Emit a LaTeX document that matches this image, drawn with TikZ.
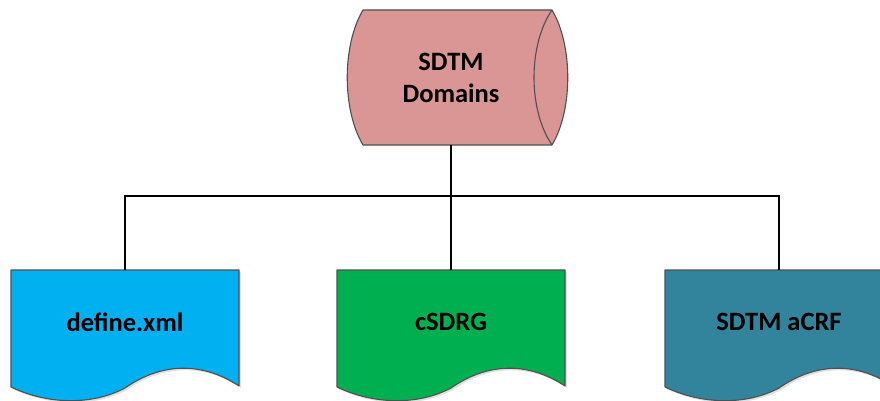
\documentclass[tikz,border=0pt]{standalone}
\usepackage{fontspec}
\setmainfont{Carlito}
\definecolor{cylfill}{HTML}{D99694}
\definecolor{docblue}{HTML}{00B0F0}
\definecolor{docgreen}{HTML}{00B050}
\definecolor{docteal}{HTML}{31849B}
\definecolor{edgegray}{HTML}{505050}
\tikzset{
  shapeline/.style={draw=edgegray, line width=1.1pt, line join=round},
  shade/.style={fill=black, fill opacity=0.12, draw=none},
  conn/.style={draw=black, line width=1.3pt},
  label/.style={font=\fontsize{26.5}{32}\selectfont\bfseries, text=black, align=center, inner sep=0pt},
  docnode/.style={label, minimum width=228pt, minimum height=104pt, anchor=north}
}
\newcommand\docpath[1]{(#1-114,270) -- (#1+114,270) -- (#1+114,386)
    .. controls (#1+76,361) and (#1+36,363) .. (#1,388)
    .. controls (#1-36,407) and (#1-81,403) .. (#1-114,387) -- cycle}
\newcommand\docshape[2]{%
  \fill[shade, xshift=2pt, yshift=-2pt] \docpath{#1};
  \filldraw[shapeline, fill=#2] \docpath{#1};}
\begin{document}
\begin{tikzpicture}[x=1pt,y=-1pt]
\useasboundingbox (0,0) rectangle (880,401);
\clip (0,0) rectangle (880,401);
% cylinder
\filldraw[shapeline, fill=cylfill] (363,10) -- (552,10)
  .. controls (573,45) and (573,110) .. (552,145) -- (363,145)
  .. controls (342,110) and (342,45) .. (363,10) -- cycle;
\draw[shapeline] (552,10) .. controls (528,45) and (528,110) .. (552,145);
\node[label, minimum width=180pt, minimum height=135pt] (sdtm) at (451,77.5) {SDTM\\Domains};
% documents
\docshape{125}{docblue}
\docshape{451}{docgreen}
\docshape{779}{docteal}
\node[docnode] (def) at (125,270) {define.xml};
\node[docnode] (csdrg) at (451,270) {cSDRG};
\node[docnode] (acrf) at (779,270) {SDTM aCRF};
% connectors
\coordinate (bus) at (451,196);
\draw[conn] (sdtm.south) -- (csdrg.north);
\draw[conn] (bus) -| (def.north);
\draw[conn] (bus) -| (acrf.north);
\end{tikzpicture}
\end{document}
